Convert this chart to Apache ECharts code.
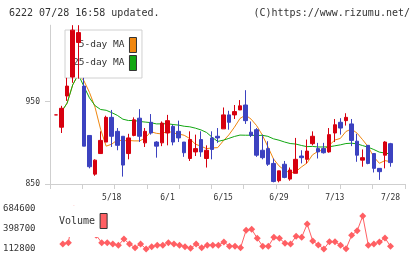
<!DOCTYPE html>
<html>
<head>
<meta charset="utf-8">
<script src="https://cdn.jsdelivr.net/npm/echarts/dist/echarts.min.js"></script>
<style>
  html, body { margin: 0; padding: 0; background: #fff; }
  #chart { width: 420px; height: 259px; }
</style>
</head>
<body>
<div id="chart"></div>
<script>
// trading days (2015)
const dates = ['4/28','4/30','5/1','5/7','5/8','5/11','5/12','5/13','5/14','5/15',
  '5/18','5/19','5/20','5/21','5/22','5/25','5/26','5/27','5/28','5/29',
  '6/1','6/2','6/3','6/4','6/5','6/8','6/9','6/10','6/11','6/12',
  '6/15','6/16','6/17','6/18','6/19','6/22','6/23','6/24','6/25','6/26',
  '6/29','6/30','7/1','7/2','7/3','7/6','7/7','7/8','7/9','7/10',
  '7/13','7/14','7/15','7/16','7/17','7/21','7/22','7/23','7/24','7/27','7/28'];

const opens = [934, 919, 957, 980, 1022, 969, 909, 862, 887, 901,
  931, 914, 908, 887, 909, 930, 900, 925, 901, 900,
  912, 920, 914, 901, 881, 889, 904, 881, 906, 908,
  917, 934, 934, 940, 946, 913, 916, 891, 893, 875,
  854, 874, 856, 863, 884, 880, 899, 893, 893, 889,
  912, 925, 927, 923, 902, 879, 897, 887, 869, 885, 899];
const closes = [934, 942, 969, 1037, 1034, 896, 871, 879, 903, 931,
  908, 897, 873, 906, 928, 908, 914, 912, 896, 924,
  927, 901, 906, 888, 904, 893, 889, 891, 892, 906,
  934, 925, 938, 945, 927, 909, 885, 882, 874, 853,
  866, 858, 867, 880, 882, 890, 908, 889, 888, 910,
  922, 918, 931, 903, 885, 882, 875, 869, 865, 901, 876];
const lows = [934, 912, 951, 973, 978, 896, 869, 860, 887, 901,
  895, 891, 859, 880, 908, 901, 895, 910, 882, 896,
  897, 897, 901, 883, 878, 884, 883, 870, 880, 900,
  917, 916, 929, 940, 923, 907, 883, 880, 872, 852,
  852, 857, 854, 863, 875, 875, 897, 881, 887, 888,
  901, 910, 921, 896, 877, 871, 874, 864, 855, 869, 871];
const highs = [934, 945, 979, 1043, 1043, 979, 909, 880, 914, 933,
  940, 918, 908, 911, 931, 941, 918, 935, 902, 926,
  934, 922, 927, 901, 914, 910, 914, 897, 914, 918,
  943, 939, 946, 952, 964, 926, 918, 910, 902, 881,
  866, 878, 870, 906, 891, 904, 914, 900, 900, 918,
  929, 930, 936, 929, 911, 892, 897, 887, 869, 902, 900];

const volumes = [null, 184000, 203000, 684600, 335000, 560000, 420000, 310000, 203000, 203000,
  184000, 166000, 256000, 184000, 131000, 184000, 112800, 146000, 166000, 166000,
  203000, 184000, 166000, 146000, 123000, 184000, 131000, 166000, 166000, 166000,
  213000, 151000, 151000, 131000, 380000, 394000, 266000, 151000, 151000, 280000,
  266000, 194000, 184000, 294000, 280000, 470000, 227000, 170000, 112800, 217000,
  217000, 166000, 117000, 309000, 374000, 584500, 166000, 184000, 213000, 270000, 151000];

const priceTicks = [850, 950];
const volumeTicks = [112800, 398700, 684600];
const xTickCount = 11;

// moving average over the closes available so far (listing started 4/28)
function movingAverage(n) {
  const out = [];
  for (let i = 0; i < closes.length; i++) {
    if (i === 0) { out.push(null); continue; }
    const from = Math.max(0, i - n + 1);
    let sum = 0;
    for (let j = from; j <= i; j++) sum += closes[j];
    out.push(+(sum / (i - from + 1)).toFixed(2));
  }
  return out;
}

const candles = dates.map((d, i) => [opens[i], closes[i], lows[i], highs[i]]);

const FONT = 'DejaVu Sans Mono';
const AXIS = '#cfcfcf';
const TXT = '#333';
const UP = '#d7000f';
const DOWN = '#3c42c0';
const VOL = '#ff5f63';

const chart = echarts.init(document.getElementById('chart'), null, { renderer: 'canvas' });

chart.setOption({
  animation: false,
  backgroundColor: '#fff',
  title: [
    { text: '6222 07/28 16:58 updated.', left: 4, top: 3,
      textStyle: { fontFamily: FONT, fontSize: 10, fontWeight: 'normal', color: TXT } },
    { text: '(C)https://www.rizumu.net/', right: 5, top: 3,
      textStyle: { fontFamily: FONT, fontSize: 10, fontWeight: 'normal', color: TXT } }
  ],
  legend: [
    {
      data: ['5-day MA', '25-day MA'],
      orient: 'vertical',
      align: 'right',
      left: 65, top: 30,
      padding: [7, 5, 7, 8],
      itemGap: 2,
      itemWidth: 7, itemHeight: 15,
      icon: 'rect',
      backgroundColor: '#fff',
      borderColor: '#d0d0d0',
      borderWidth: 1,
      selectedMode: false,
      itemStyle: { borderColor: '#333', borderWidth: 1 },
      formatter: name => (name === '5-day MA' ? ' ' + name : name),
      textStyle: { fontFamily: FONT, fontSize: 9.5, color: TXT }
    },
    {
      data: ['Volume'],
      left: 53, top: 206,
      padding: [7, 4, 8, 6],
      align: 'right',
      itemWidth: 7, itemHeight: 15,
      icon: 'rect',
      backgroundColor: '#fff',
      selectedMode: false,
      itemStyle: { borderColor: '#333', borderWidth: 1 },
      textStyle: { fontFamily: FONT, fontSize: 10, color: TXT }
    }
  ],
  grid: [
    { left: 53.2, right: 26.7, top: 25.2, bottom: 75 },   // candles
    { left: 53.2, right: 26.7, top: 209, bottom: 10 },    // volume
    { left: 50, right: 15, top: 25.2, bottom: 75 }        // axis frame
  ],
  xAxis: [
    {
      type: 'category', gridIndex: 0, data: dates, boundaryGap: true,
      axisLine: { show: false }, axisTick: { show: false },
      axisLabel: {
        interval: (idx) => idx > 0 && idx % 10 === 0,
        margin: 10, fontFamily: FONT, fontSize: 8, color: TXT
      }
    },
    {
      type: 'category', gridIndex: 1, data: dates, boundaryGap: true,
      show: false
    },
    {
      type: 'value', gridIndex: 2, min: 0, max: xTickCount, interval: 1,
      axisLine: { lineStyle: { color: AXIS } },
      axisTick: { length: 5, lineStyle: { color: AXIS } },
      axisLabel: { show: false },
      splitLine: { show: false }
    }
  ],
  yAxis: [
    { type: 'value', gridIndex: 0, min: 850, max: 1043, show: false, splitLine: { show: false } },
    {
      type: 'value', gridIndex: 1, min: volumeTicks[0], max: volumeTicks[2],
      axisLine: { show: false }, axisTick: { show: false }, splitLine: { show: false },
      axisLabel: {
        customValues: volumeTicks, margin: 19, formatter: v => String(v),
        fontFamily: FONT, fontSize: 9, color: TXT
      }
    },
    {
      type: 'value', gridIndex: 2, min: 850, max: 1043,
      axisLine: { show: true, lineStyle: { color: AXIS } },
      axisTick: { show: true, length: 5, customValues: priceTicks, lineStyle: { color: AXIS } },
      axisLabel: { customValues: priceTicks, margin: 10, fontFamily: FONT, fontSize: 8, color: TXT },
      splitLine: { show: false }
    }
  ],
  series: [
    {
      name: 'price', type: 'candlestick', xAxisIndex: 0, yAxisIndex: 0,
      data: candles, barWidth: 4, z: 5,
      itemStyle: { color: UP, color0: DOWN, borderColor: UP, borderColor0: DOWN, borderWidth: 1 }
    },
    {
      name: '5-day MA', type: 'line', xAxisIndex: 0, yAxisIndex: 0,
      data: movingAverage(5), showSymbol: false, symbol: 'none',
      color: '#f0870f', lineStyle: { width: 1, color: '#f0870f' }, z: 3
    },
    {
      name: '25-day MA', type: 'line', xAxisIndex: 0, yAxisIndex: 0,
      data: movingAverage(25), showSymbol: false, symbol: 'none',
      color: '#12a712', lineStyle: { width: 1, color: '#12a712' }, z: 3
    },
    {
      name: 'Volume', type: 'line', xAxisIndex: 1, yAxisIndex: 1,
      data: volumes, symbol: 'diamond', symbolSize: 7, showAllSymbol: true,
      color: VOL, lineStyle: { width: 1, color: VOL },
      itemStyle: { color: VOL }, z: 2
    }
  ]
});
</script>
</body>
</html>
